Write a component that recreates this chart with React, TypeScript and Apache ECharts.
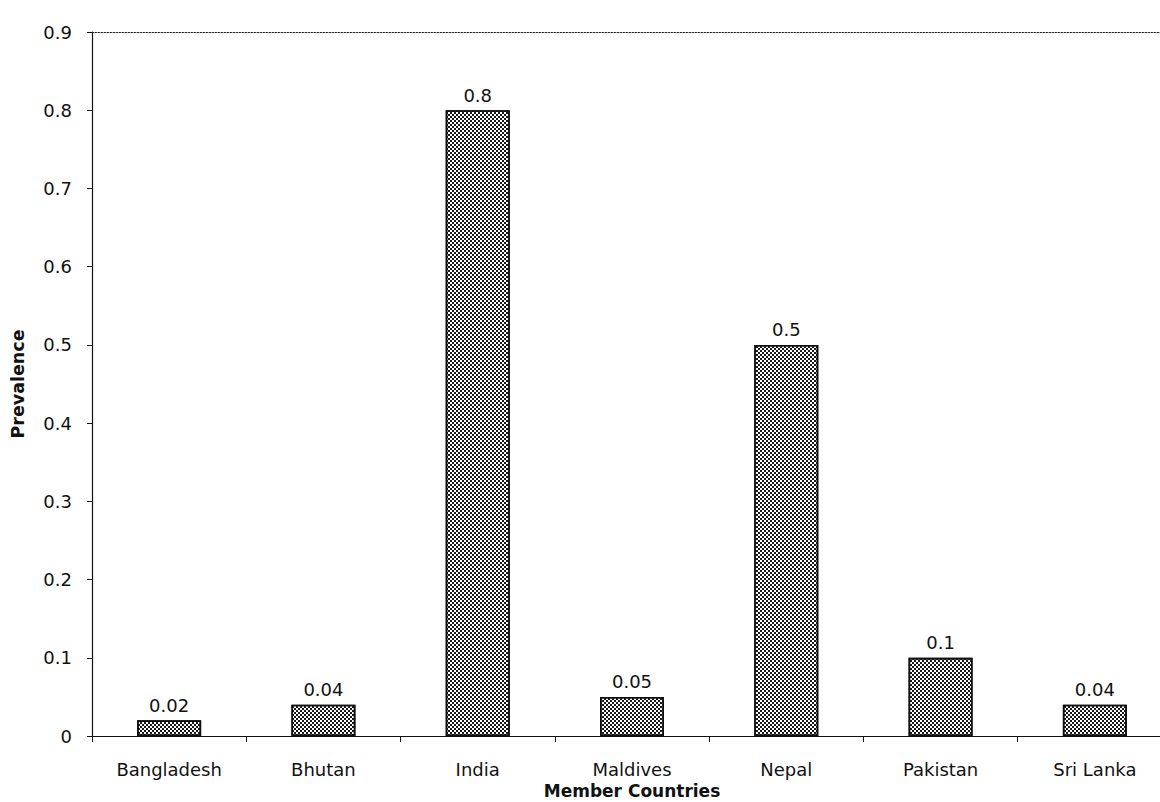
import React, { useEffect, useRef } from "react";
import * as echarts from "echarts";

const categories = ["Bangladesh", "Bhutan", "India", "Maldives", "Nepal", "Pakistan", "Sri Lanka"];
const prevalence = [0.02, 0.04, 0.8, 0.05, 0.5, 0.1, 0.04];
const yMin = 0;
const yMax = 0.9;
const yStep = 0.1;
const xTitle = "Member Countries";
const yTitle = "Prevalence";

export default function App() {
  const ref = useRef<HTMLDivElement>(null);
  useEffect(() => {
    if (!ref.current) return;
    const chart = echarts.init(ref.current, undefined, { renderer: "svg" });
    const font = "DejaVu Sans";
    chart.setOption({
      animation: false,
      backgroundColor: "#fff",
      grid: {
        left: 92,
        top: 32,
        width: 1080,
        height: 704,
        containLabel: false,
        outerBoundsMode: "none",
      },
      xAxis: [
        {
          type: "category",
          data: categories,
          position: "bottom",
          axisLine: { show: true, lineStyle: { color: "#111", width: 1.2 } },
          axisTick: { show: true, length: 6, lineStyle: { color: "#111" } },
          axisLabel: { color: "#111", fontFamily: font, fontSize: 18, margin: 24 },
          name: xTitle,
          nameLocation: "middle",
          nameGap: 44,
          nameTextStyle: { color: "#111", fontFamily: font, fontSize: 17, fontWeight: "bold" },
          splitLine: { show: false },
        },
        {
          type: "category",
          data: categories,
          position: "top",
          axisLine: { show: true, lineStyle: { color: "#222", width: 1, type: [1.5, 1.5] } },
          axisTick: { show: false },
          axisLabel: { show: false },
        },
      ],
      yAxis: {
        type: "value",
        min: yMin,
        max: yMax,
        interval: yStep,
        axisLine: { show: true, lineStyle: { color: "#111", width: 1.2 } },
        axisTick: { show: true, length: 5, lineStyle: { color: "#111" } },
        axisLabel: { color: "#111", fontFamily: font, fontSize: 18, margin: 20 },
        splitLine: { show: false },
        name: yTitle,
        nameLocation: "middle",
        nameGap: 65,
        nameTextStyle: { color: "#111", fontFamily: font, fontSize: 17.5, fontWeight: "bold" },
      },
      series: [
        {
          type: "bar",
          data: prevalence,
          barWidth: 64,
          itemStyle: {
            color: "#ffffff",
            borderColor: "#111",
            borderWidth: 1.6,
            decal: {
              symbol: "rect",
              symbolSize: 1,
              color: "#1a1a1a",
              backgroundColor: "#e6e6e6",
              dashArrayX: [[1.6, 1.6], [0, 1.6, 1.6, 0]],
              dashArrayY: [1.6, 0],
              rotation: 0,
            },
          },
          label: {
            show: true,
            position: "top",
            distance: 6,
            color: "#111",
            fontFamily: font,
            fontSize: 18,
          },
        },
      ],
    });
    return () => chart.dispose();
  }, []);
  return <div ref={ref} style={{ position: "absolute", left: 0, top: 0, width: 1160, height: 802 }} />;
}
